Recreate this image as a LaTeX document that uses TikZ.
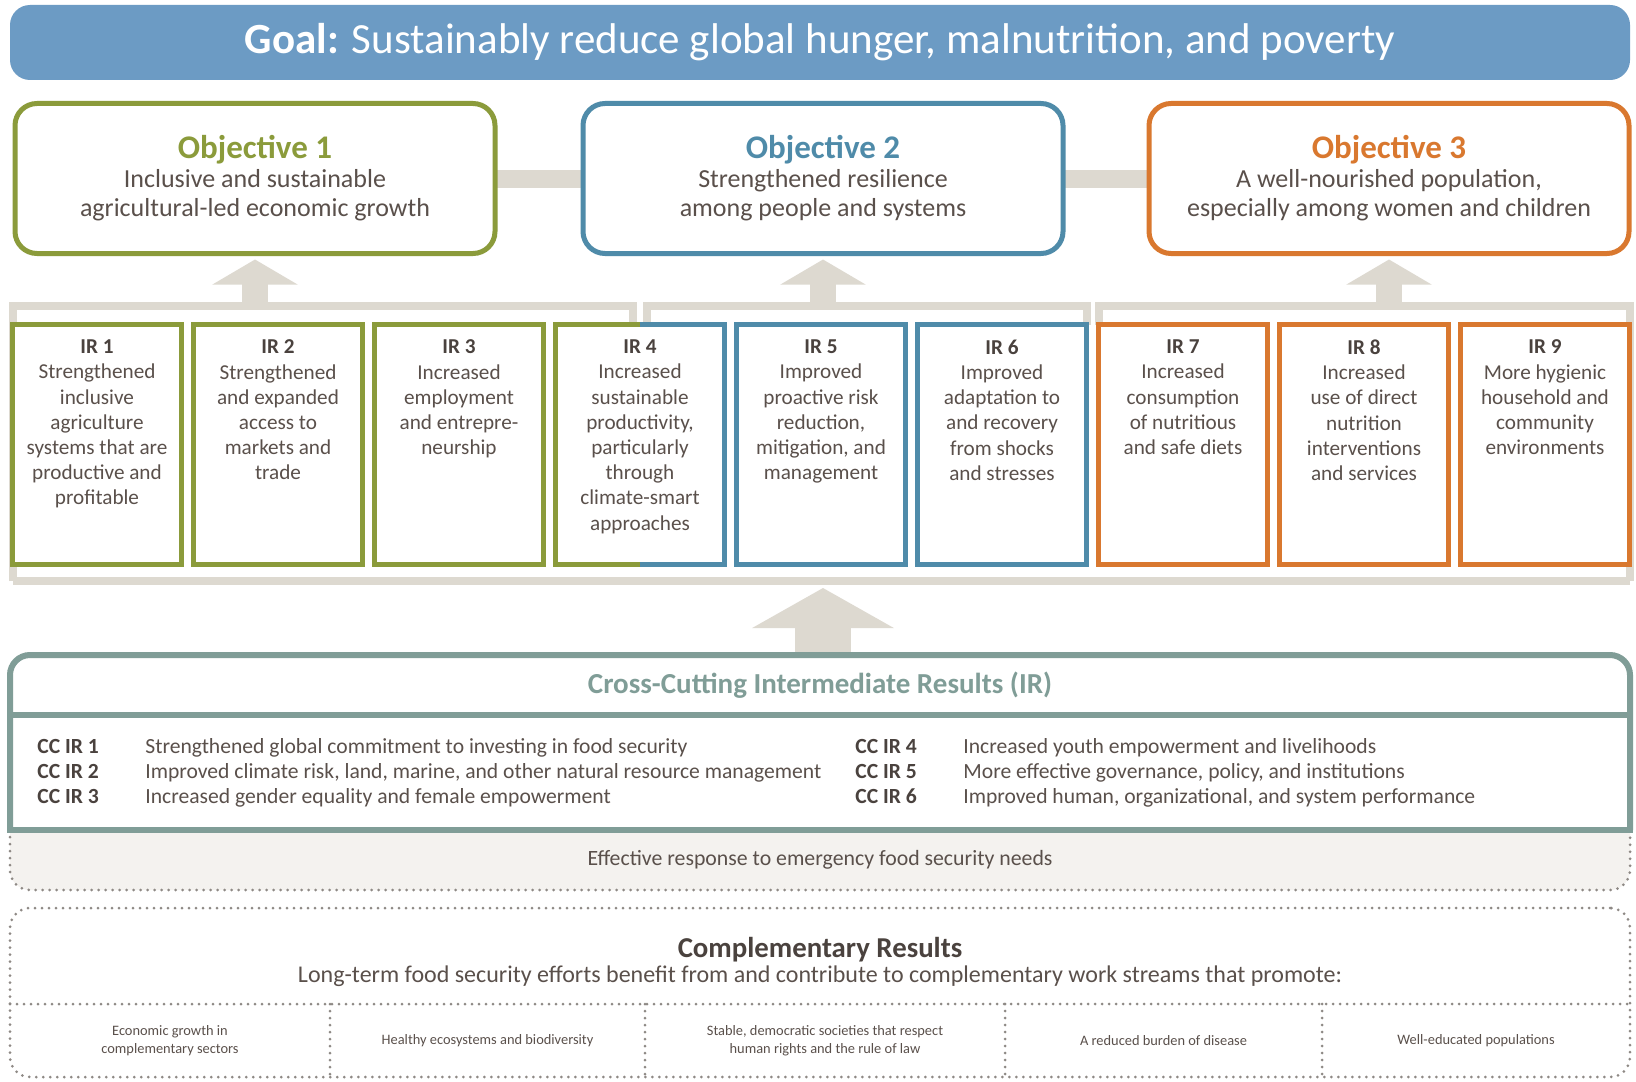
\documentclass[tikz,border=0pt]{standalone}
\usepackage{fontspec}
\setmainfont{Carlito}
\usetikzlibrary{positioning, calc, backgrounds, arrows.meta}
\definecolor{goalblue}{HTML}{6C9BC4}
\definecolor{objgreen}{HTML}{8B9B3B}
\definecolor{objblue}{HTML}{4F8BA9}
\definecolor{objorange}{HTML}{D9782F}
\definecolor{linkgray}{HTML}{DDD9D0}
\definecolor{ccteal}{HTML}{809D97}
\definecolor{txtgray}{HTML}{5A504B}
\definecolor{headgray}{HTML}{4A423E}
\definecolor{dotgray}{HTML}{8E8985}
\definecolor{emergfill}{HTML}{F4F2EF}

\newcommand{\objtitle}[2]{{\fontsize{16.5}{19}\selectfont\bfseries\color{#1}#2}}
\newcommand{\irhead}[1]{{\bfseries\color{headgray}#1}}
\newcommand{\cclabel}[1]{\makebox[54pt][l]{\bfseries\color{headgray}#1}}

\begin{document}
\begin{tikzpicture}[x=0.5pt, y=-0.5pt,
  goalbar/.style={fill=goalblue, rounded corners=10pt, minimum width=810pt, minimum height=37.5pt, inner sep=0pt, text=white, font=\fontsize{21.5}{25}\selectfont},
  objbox/.style={draw=#1, line width=2.5pt, rounded corners=11pt, fill=white, minimum width=240pt, minimum height=75pt, outer sep=0pt, align=center, text=txtgray, font=\fontsize{13}{14.5}\selectfont},
  irbox/.style={draw=#1, line width=2.5pt, fill=white, minimum width=84.5pt, minimum height=120pt, outer sep=0pt, inner sep=0pt},
  irtext/.style={align=center, inner sep=0pt, text=txtgray, font=\fontsize{10.6}{12.6}\selectfont},
  objlink/.style={draw=linkgray, line width=9pt},
  irframe/.style={draw=linkgray, line width=4pt},
  liftarrow/.style={draw=linkgray, line width=13pt, -{Triangle[width=42pt, length=12.5pt]}},
  bigarrow/.style={draw=linkgray, line width=28pt, -{Triangle[width=70pt, length=20pt]}},
  ccpart/.style={minimum width=810pt, outer sep=0pt, inner sep=0pt},
  ccline/.style={draw=ccteal, line width=3pt},
  ccitem/.style={align=left, inner sep=0pt, text=txtgray, font=\fontsize{10.8}{12.5}\selectfont},
  dotline/.style={draw=dotgray, line width=1.5pt, dash pattern=on 0pt off 3.5pt, line cap=round},
  compbox/.style={dotline, rounded corners=10pt, minimum width=810pt, minimum height=84.5pt, outer sep=0pt},
  cell/.style={minimum height=36.5pt, outer sep=0pt, inner sep=0pt, align=center, text=txtgray, font=\fontsize{7.2}{8.8}\selectfont}
]
\useasboundingbox (0,0) rectangle (1636,1081);

% goal and objectives
\node[goalbar] (goal) at (820,42.5) {\textbf{Goal:} Sustainably reduce global hunger, malnutrition, and poverty};
\node[objbox=objgreen] (obj1) at (255,178.5) {\objtitle{objgreen}{Objective 1}\\[0pt]Inclusive and sustainable\\agricultural-led economic growth};
\node[objbox=objblue, right=44pt of obj1] (obj2) {\objtitle{objblue}{Objective 2}\\[0pt]Strengthened resilience\\among people and systems};
\node[objbox=objorange, right=43pt of obj2] (obj3) {\objtitle{objorange}{Objective 3}\\[0pt]A well-nourished population,\\especially among women and children};

% intermediate results
\node[irbox=objgreen] (ir1) at (97,444.5) {};
\node[irbox=objgreen, right=6pt of ir1] (ir2) {};
\node[irbox=objgreen, right=6pt of ir2] (ir3) {};
\node[irbox=none, right=6pt of ir3] (ir4) {};
\node[irbox=objblue, right=6pt of ir4] (ir5) {};
\node[irbox=objblue, right=6pt of ir5] (ir6) {};
\node[irbox=objorange, right=6pt of ir6] (ir7) {};
\node[irbox=objorange, right=6pt of ir7] (ir8) {};
\node[irbox=objorange, right=6pt of ir8] (ir9) {};
\draw[line width=2.5pt, objgreen] (ir4.north) -- (ir4.north west) -- (ir4.south west) -- (ir4.south);
\draw[line width=2.5pt, objblue] (ir4.north) -- (ir4.north east) -- (ir4.south east) -- (ir4.south);

\node[irtext, below=7.5pt of ir1.north] (ir1txt) {\irhead{IR 1}\\Strengthened\\inclusive\\agriculture\\systems that are\\productive and\\profitable};
\node[irtext, below=7.5pt of ir2.north] (ir2txt) {\irhead{IR 2}\\Strengthened\\and expanded\\access to\\markets and\\trade};
\node[irtext, below=7.5pt of ir3.north] (ir3txt) {\irhead{IR 3}\\Increased\\employment\\and entrepre-\\neurship};
\node[irtext, below=7.5pt of ir4.north] (ir4txt) {\irhead{IR 4}\\Increased\\sustainable\\productivity,\\particularly\\through\\climate-smart\\approaches};
\node[irtext, below=7.5pt of ir5.north] (ir5txt) {\irhead{IR 5}\\Improved\\proactive risk\\reduction,\\mitigation, and\\management};
\node[irtext, below=7.5pt of ir6.north] (ir6txt) {\irhead{IR 6}\\Improved\\adaptation to\\and recovery\\from shocks\\and stresses};
\node[irtext, below=7.5pt of ir7.north] (ir7txt) {\irhead{IR 7}\\Increased\\consumption\\of nutritious\\and safe diets};
\node[irtext, below=7.5pt of ir8.north] (ir8txt) {\irhead{IR 8}\\Increased\\use of direct\\nutrition\\interventions\\and services};
\node[irtext, below=7.5pt of ir9.north] (ir9txt) {\irhead{IR 9}\\More hygienic\\household and\\community\\environments};

% cross-cutting results
\node[ccpart, minimum height=30pt, text=ccteal, font=\fontsize{14.5}{16}\selectfont\bfseries] (cctitle) at (820,685) {Cross-Cutting Intermediate Results (IR)};
\node[ccpart, minimum height=57.5pt, below=0pt of cctitle] (ccbody) {};
\node[ccpart, minimum height=30pt, below=0pt of ccbody, text=txtgray, font=\fontsize{10.9}{12.5}\selectfont] (emerg) {Effective response to emergency food security needs};
\node[ccitem, anchor=west] (ccleft) at ($(ccbody.west)+(27,0)$) {\cclabel{CC IR 1}Strengthened global commitment to investing in food security\\\cclabel{CC IR 2}Improved climate risk, land, marine, and other natural resource management\\\cclabel{CC IR 3}Increased gender equality and female empowerment};
\node[ccitem, anchor=west] (ccright) at ($(ccbody.west)+(845,0)$) {\cclabel{CC IR 4}Increased youth empowerment and livelihoods\\\cclabel{CC IR 5}More effective governance, policy, and institutions\\\cclabel{CC IR 6}Improved human, organizational, and system performance};
\draw[ccline, rounded corners=10pt] (ccbody.south west) |- (cctitle.north) -| (ccbody.south east);
\draw[ccline, line cap=rect] (ccbody.north west) -- (ccbody.north east);
\draw[ccline, line cap=rect] (ccbody.south west) -- (ccbody.south east);

% complementary results
\node[compbox] (comp) at (820,992.5) {};
\node[inner sep=0pt, text=headgray, font=\fontsize{14.4}{16}\selectfont\bfseries] (comptitle) at ($(comp.north)+(0,42)$) {Complementary Results};
\node[inner sep=0pt, text=txtgray, font=\fontsize{12}{14}\selectfont] (compsub) at ($(comp.north)+(0,68)$) {Long-term food security efforts benefit from and contribute to complementary work streams that promote:};
\node[cell, minimum width=160pt, anchor=south west] (c1) at (comp.south west) {Economic growth in\\complementary sectors};
\node[cell, minimum width=157.5pt, right=0pt of c1] (c2) {Healthy ecosystems and biodiversity};
\node[cell, minimum width=180pt, right=0pt of c2] (c3) {Stable, democratic societies that respect\\human rights and the rule of law};
\node[cell, minimum width=158.5pt, right=0pt of c3] (c4) {A reduced burden of disease};
\node[cell, minimum width=154pt, right=0pt of c4] (c5) {Well-educated populations};
\draw[dotline] (c1.north west) -- (c5.north east);
\foreach \c in {c1,c2,c3,c4}
  \draw[dotline] (\c.north east) -- (\c.south east);

% gray links, frame and arrows behind the boxes
\coordinate (brk) at (0,306);
\coordinate (base) at (0,581);
\begin{scope}[on background layer]
  \fill[white] (0,0) rectangle (1636,1081);
  \draw[objlink] (obj1) -- (obj2);
  \draw[objlink] (obj2) -- (obj3);
  \draw[irframe] (ir1.west |- base) -- (ir1.west |- brk) -| ($(ir4.north)+(-7,0)$);
  \draw[irframe] ($(ir4.north)+(7,0)$) |- (brk -| ir6.east) -- (ir6.north east);
  \draw[irframe] (ir7.north west) |- (brk -| ir9.east) -- (ir9.east |- base);
  \draw[irframe] (ir1.west |- base) -- (ir9.east |- base);
  \foreach \o in {obj1,obj2,obj3}
    \draw[liftarrow] (\o.south |- brk) -- ($(\o.south)+(0,6)$);
  \draw[bigarrow] (obj2.south |- cctitle.north) -- ($(obj2.south |- base)+(0,7)$);
  \draw[dotline, fill=emergfill, rounded corners=10pt] (emerg.north west) |- (emerg.south) -| (emerg.north east);
\end{scope}
\end{tikzpicture}
\end{document}
